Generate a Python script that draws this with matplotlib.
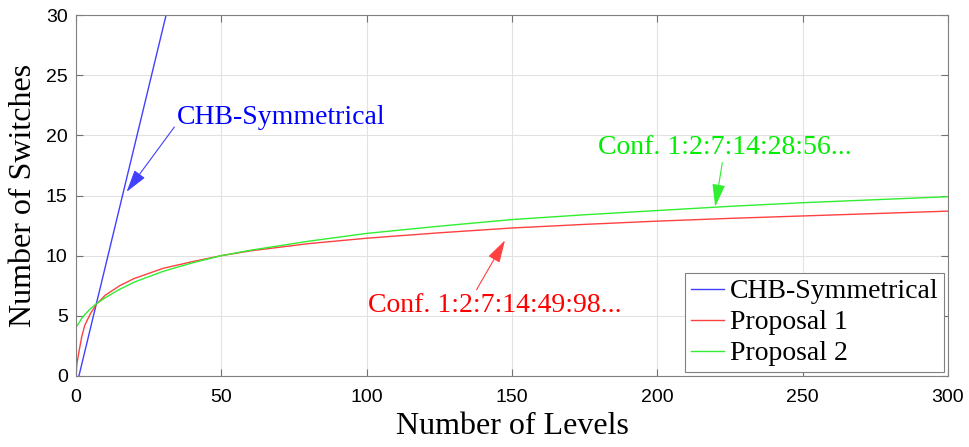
import numpy as np
from matplotlib import pyplot as plt

# data
levels_chb = [1, 31]
switches_chb = [0, 30]

levels = [0, 0.3, 1, 2, 3, 5, 7, 10, 15, 20, 30, 40, 50, 60, 80, 100, 125, 150, 175, 200, 225, 250, 275, 300]
prop1 = [0, 1.0, 2.0, 3.3, 4.2, 5.2, 5.95, 6.7, 7.5, 8.1, 8.95, 9.5, 10.0, 10.4, 11.0, 11.45,
         11.9, 12.3, 12.6, 12.87, 13.1, 13.3, 13.5, 13.7]
prop2 = [4.0, 4.15, 4.4, 4.8, 5.1, 5.6, 6.0, 6.5, 7.2, 7.8, 8.7, 9.4, 10.0, 10.45, 11.2, 11.85,
         12.45, 13.0, 13.4, 13.75, 14.1, 14.4, 14.65, 14.9]

serif = ['Liberation Serif', 'DejaVu Serif']
sans = ['Liberation Sans', 'DejaVu Sans']

fig = plt.figure(figsize=(9.69, 4.47), dpi=100)
ax = fig.add_axes([76/969, 1-376/447, 872/969, 361/447])

ax.plot(levels_chb, switches_chb, color='#4040ff', lw=1.0, label='CHB-Symmetrical')
ax.plot(levels, prop1, color='#ff4040', lw=1.0, label='Proposal 1')
ax.plot(levels, prop2, color='#30ee30', lw=1.0, label='Proposal 2')

ax.set_xlim(0, 300)
ax.set_ylim(0, 30)
ax.set_xticks(np.arange(0, 301, 50))
ax.set_yticks(np.arange(0, 31, 5))
ax.grid(True, color='#e2e2e2', lw=0.8)
ax.set_axisbelow(True)
ax.tick_params(direction='in', top=True, right=True, labelsize=14, length=5,
               color='#707070', pad=6)
for lab in ax.get_xticklabels() + ax.get_yticklabels():
    lab.set_family(sans)
ax.tick_params(axis='x', pad=9)
for s in ax.spines.values():
    s.set_color('#808080')

ax.set_xlabel('Number of Levels', fontsize=23, family=serif, labelpad=5)
ax.set_ylabel('Number of Switches', fontsize=23, family=serif, labelpad=6)

arrow = dict(arrowstyle='-|>,head_length=0.7,head_width=0.2', lw=0.8,
             shrinkA=0, shrinkB=0)
ax.annotate('CHB-Symmetrical', xy=(17.4, 15.3), xytext=(34.8, 21.5),
            color='#0000ff', fontsize=20, family=serif, va='center', ha='left',
            arrowprops=dict(arrow, color='#4040ff', relpos=(-0.01, 0.15)))
ax.annotate('Conf. 1:2:7:14:28:56...', xy=(219.9, 14.07), xytext=(179.6, 19.0),
            color='#00ee00', fontsize=20, family=serif, va='center', ha='left',
            arrowprops=dict(arrow, color='#30ee30', relpos=(0.49, -0.1)))
ax.annotate('Conf. 1:2:7:14:49:98...', xy=(147.6, 11.28), xytext=(100.6, 5.9),
            color='#ff0000', fontsize=20, family=serif, va='center', ha='left',
            arrowprops=dict(arrow, color='#ff4040', relpos=(0.42, 1.0)))

leg = ax.legend(loc='lower right', prop={'family': serif, 'size': 20}, fancybox=False,
                framealpha=1, edgecolor='#808080', borderaxespad=0.15, handlelength=1.2,
                handletextpad=0.2, labelspacing=0.2, borderpad=0.2)
leg.get_frame().set_linewidth(0.8)

fig.savefig('out.png', dpi=100)
